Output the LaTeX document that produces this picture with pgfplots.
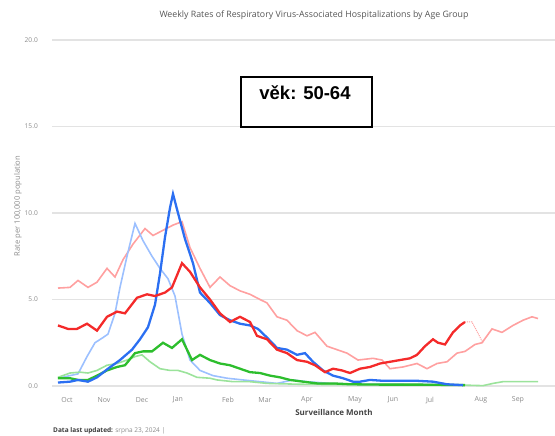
\documentclass[border=0pt]{standalone}
\usepackage{pgfplots}
\pgfplotsset{compat=1.18}
\usepackage{fontspec}
\setmainfont{Open Sans}
\newfontfamily\arialfont{Liberation Sans}
\definecolor{gridc}{HTML}{E3E3E3}
\definecolor{tickc}{HTML}{8A8A8A}
\definecolor{titlec}{HTML}{555555}
\definecolor{dred}{HTML}{F42A2A}
\definecolor{lred}{HTML}{FFA0A0}
\definecolor{dblue}{HTML}{2B6FF2}
\definecolor{lblue}{HTML}{9CC0FF}
\definecolor{dgreen}{HTML}{2DBE2D}
\definecolor{lgreen}{HTML}{9BE39B}
\begin{document}
\begin{tikzpicture}
\useasboundingbox (-52pt,-50pt) rectangle (503pt,386pt);
\begin{axis}[
  scale only axis,
  width=503pt, height=346pt,
  xmin=52, xmax=555, ymin=0, ymax=20,
  axis x line=none, axis y line=none,
  clip=false,
  ytick=\empty, xtick=\empty,
]
\draw[gridc, line width=1.3pt] (axis cs:52,0) -- (axis cs:555,0);
\draw[gridc, line width=1.3pt] (axis cs:52,5) -- (axis cs:555,5);
\draw[gridc, line width=1.3pt] (axis cs:52,10) -- (axis cs:555,10);
\draw[gridc, line width=1.3pt] (axis cs:52,15) -- (axis cs:555,15);
\draw[gridc, line width=1.3pt] (axis cs:52,20) -- (axis cs:555,20);
% y tick labels
\node[anchor=east, font=\fontsize{6.6}{7}\selectfont, text=tickc, inner sep=0pt] at (axis cs:38,0) {0.0};
\node[anchor=east, font=\fontsize{6.6}{7}\selectfont, text=tickc, inner sep=0pt] at (axis cs:38,5) {5.0};
\node[anchor=east, font=\fontsize{6.6}{7}\selectfont, text=tickc, inner sep=0pt] at (axis cs:38,10) {10.0};
\node[anchor=east, font=\fontsize{6.6}{7}\selectfont, text=tickc, inner sep=0pt] at (axis cs:38,15) {15.0};
\node[anchor=east, font=\fontsize{6.6}{7}\selectfont, text=tickc, inner sep=0pt] at (axis cs:38,20) {20.0};
% x tick labels
\node[font=\fontsize{7}{8}\selectfont, text=tickc, inner sep=0pt] at (axis cs:67,-0.81) {Oct};
\node[font=\fontsize{7}{8}\selectfont, text=tickc, inner sep=0pt] at (axis cs:104,-0.81) {Nov};
\node[font=\fontsize{7}{8}\selectfont, text=tickc, inner sep=0pt] at (axis cs:142,-0.81) {Dec};
\node[font=\fontsize{7}{8}\selectfont, text=tickc, inner sep=0pt] at (axis cs:178,-0.81) {Jan};
\node[font=\fontsize{7}{8}\selectfont, text=tickc, inner sep=0pt] at (axis cs:228,-0.81) {Feb};
\node[font=\fontsize{7}{8}\selectfont, text=tickc, inner sep=0pt] at (axis cs:265,-0.81) {Mar};
\node[font=\fontsize{7}{8}\selectfont, text=tickc, inner sep=0pt] at (axis cs:307,-0.81) {Apr};
\node[font=\fontsize{7}{8}\selectfont, text=tickc, inner sep=0pt] at (axis cs:355,-0.81) {May};
\node[font=\fontsize{7}{8}\selectfont, text=tickc, inner sep=0pt] at (axis cs:393,-0.81) {Jun};
\node[font=\fontsize{7}{8}\selectfont, text=tickc, inner sep=0pt] at (axis cs:430,-0.81) {Jul};
\node[font=\fontsize{7}{8}\selectfont, text=tickc, inner sep=0pt] at (axis cs:481,-0.81) {Aug};
\node[font=\fontsize{7}{8}\selectfont, text=tickc, inner sep=0pt] at (axis cs:518,-0.81) {Sep};
% light red (previous season)
\addplot[lred, line width=1.6pt, mark=none] coordinates {
(58,5.66)(70,5.7)(78,6.1)(88,5.7)(97,6.0)(107,6.8)(115,6.3)(123,7.3)(133,8.2)(145,9.1)(153,8.7)(163,9.0)(173,9.3)(182,9.5)(190,8.0)(200,6.8)(210,5.7)(220,6.3)(230,5.8)(240,5.5)(250,5.3)(260,5.0)(267,4.8)(277,4.0)(287,3.8)(297,3.2)(307,2.9)(315,3.1)(327,2.3)(337,2.1)(347,1.9)(358,1.5)(373,1.6)(382,1.5)(390,1.0)(403,1.1)(417,1.3)(427,1.0)(437,1.3)(447,1.4)(457,1.9)(465,2.0)(475,2.4)(482,2.5)(492,3.3)(502,3.1)(513,3.5)(523,3.8)(532,4.0)(538,3.9)
};
% light blue
\addplot[lblue, line width=1.6pt, mark=none] coordinates {
(58,0.45)(70,0.6)(78,0.7)(87,1.7)(95,2.5)(103,2.8)(108,3.0)(115,4.2)(120,5.7)(127,7.5)(135,9.4)(143,8.4)(152,7.5)(160,6.8)(168,6.2)(175,5.2)(182,3.0)(190,1.5)(200,0.9)(213,0.6)(227,0.45)(243,0.35)(260,0.25)(277,0.15)(293,0.35)(307,0.25)(330,0.15)(360,0.1)(400,0.1)(440,0.08)(465,0.05)
};
% light green
\addplot[lgreen, line width=1.6pt, mark=none] coordinates {
(58,0.5)(70,0.75)(80,0.8)(88,0.75)(97,0.9)(107,1.2)(117,1.3)(127,1.5)(135,1.7)(142,1.8)(150,1.4)(160,1.0)(170,0.9)(178,0.9)(187,0.75)(197,0.5)(210,0.45)(217,0.35)(233,0.25)(250,0.25)(267,0.15)(300,0.1)(340,0.08)(400,0.08)(440,0.06)(465,0.05)(483,0.02)(493,0.15)(503,0.25)(538,0.25)
};
% dotted continuation
\addplot[lred, line width=1pt, densely dotted, mark=none] coordinates {(465,3.7)(472,3.7)(483,2.5)};
% dark green
\addplot[dgreen, line width=2.3pt, mark=none] coordinates {
(58,0.45)(70,0.45)(78,0.35)(88,0.35)(97,0.6)(107,0.9)(117,1.1)(125,1.2)(135,1.9)(143,2.0)(152,2.0)(163,2.5)(172,2.2)(182,2.7)(192,1.5)(200,1.8)(210,1.5)(220,1.3)(230,1.2)(240,1.0)(250,0.8)(260,0.75)(270,0.6)(280,0.5)(290,0.35)(303,0.25)(317,0.15)(333,0.15)(350,0.1)(380,0.08)(420,0.08)(465,0.05)
};
% dark blue
\addplot[dblue, line width=2.3pt, mark=none] coordinates {
(58,0.2)(70,0.25)(78,0.35)(88,0.25)(97,0.5)(108,1.0)(120,1.5)(132,2.1)(140,2.7)(148,3.4)(155,4.7)(160,6.5)(165,8.6)(170,10.3)(173,11.1)(178,10.0)(185,8.5)(193,7.1)(200,5.4)(210,4.8)(220,4.1)(230,3.8)(240,3.6)(250,3.5)(258,3.3)(267,2.8)(277,2.2)(287,2.1)(297,1.8)(305,1.9)(313,1.4)(323,0.9)(333,0.6)(343,0.45)(353,0.25)(360,0.25)(370,0.35)(383,0.3)(400,0.3)(417,0.3)(433,0.25)(447,0.1)(463,0.05)
};
% dark red
\addplot[dred, line width=2.3pt, mark=none] coordinates {
(58,3.5)(68,3.3)(77,3.3)(87,3.6)(97,3.2)(107,4.0)(117,4.3)(125,4.2)(137,5.1)(147,5.3)(155,5.2)(165,5.4)(172,5.7)(182,7.1)(190,6.6)(200,5.7)(210,5.0)(220,4.2)(230,3.7)(240,4.0)(250,3.7)(257,2.9)(267,2.7)(277,2.1)(287,1.9)(297,1.5)(307,1.4)(315,1.2)(325,0.8)(333,1.0)(342,0.9)(350,0.75)(360,1.0)(370,1.1)(380,1.3)(390,1.4)(400,1.5)(410,1.6)(417,1.8)(425,2.3)(433,2.7)(438,2.5)(445,2.4)(453,3.1)(460,3.5)(465,3.7)
};
\end{axis}
% title
\node[font=\fontsize{8.8}{10}\selectfont, text=titlec] at (262pt,371pt) {Weekly Rates of Respiratory Virus-Associated Hospitalizations by Age Group};
% annotation box
\draw[black, line width=1.6pt] (189pt,259pt) rectangle (320pt,309pt);
\node[font=\arialfont\bfseries\fontsize{18.5}{20}\selectfont] at (253pt,293pt) {věk: 50-64};
% y label
\node[rotate=90, font=\fontsize{7.6}{9}\selectfont, text=tickc] at (-34pt,180pt) {Rate per 100,000 population};
% x label
\node[font=\bfseries\fontsize{8}{9}\selectfont, text=titlec!80!black] at (282pt,-27pt) {Surveillance Month};
% footer
\node[anchor=west, font=\fontsize{6.5}{8}\selectfont, inner sep=0pt] at (1pt,-45pt) {\textbf{\color{titlec!70!black}Data last updated:} {\color{tickc}srpna 23, 2024 |}};
\end{tikzpicture}
\end{document}
